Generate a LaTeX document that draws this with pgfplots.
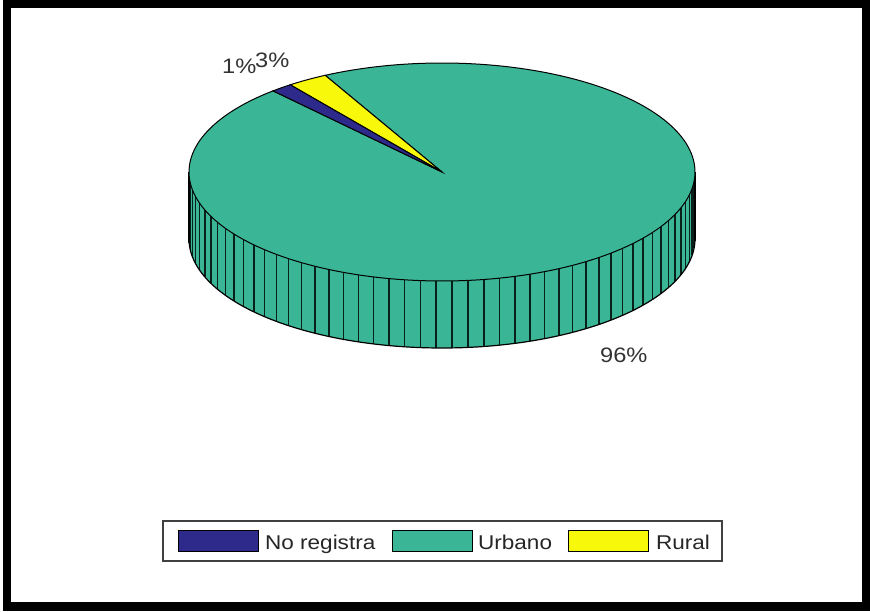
\documentclass[border=0pt]{standalone}
\usepackage{pgfplots}
\pgfplotsset{compat=1.18}
\usepackage{pgfplotstable}
\usepackage{fontspec}
\setmainfont{Liberation Sans}[FakeStretch=1.13]

\definecolor{cblue}{HTML}{2E2A8C}
\definecolor{cteal}{HTML}{3AB596}
\definecolor{cyellow}{HTML}{F8F80A}

% share of each category (percent)
\pgfplotstableread{
idx value
0 1.4
1 96.0
2 2.6
}\pietable

\pgfplotstablegetelem{0}{value}\of\pietable \let\vA\pgfplotsretval
\pgfplotstablegetelem{1}{value}\of\pietable \let\vB\pgfplotsretval
\pgfplotstablegetelem{2}{value}\of\pietable \let\vC\pgfplotsretval

% geometry (picture units = pixels)
\def\cx{442}
\def\cy{172}
\def\ra{253}
\def\rb{109}
\def\dep{67}
\pgfmathsetmacro\aS{126.86}
\pgfmathsetmacro\aA{\aS+3.6*\vA}
\pgfmathsetmacro\aB{\aA+3.6*\vB}
\pgfmathsetmacro\aC{\aB+3.6*\vC}
\pgfmathsetmacro\stepB{3.6*\vB/96}

\begin{document}
\begin{tikzpicture}
\begin{axis}[
  width=870bp, height=611bp, scale only axis,
  xmin=0, xmax=870, ymin=0, ymax=611, y dir=reverse,
  hide axis, clip=false,
]
% frame
\fill[white] (axis cs:0,0) rectangle (axis cs:870,611);
\fill[black] (axis cs:3,0) rectangle (axis cs:870,611);
\fill[white] (axis cs:11,8) rectangle (axis cs:862,602);

% side of the pie
\addplot[fill=cteal, draw=none, domain=180:360, samples=100]
  ({\cx+\ra*cos(x)}, {\cy+\dep-\rb*sin(x)}) -- (axis cs:\cx+\ra,\cy) -- (axis cs:\cx-\ra,\cy) -- cycle;
\pgfplotsinvokeforeach{14,...,63}{
  \addplot[draw=cteal!18!black, line width=1.6bp, domain=0:1, samples=2]
    ({\cx+\ra*cos(\aA+\stepB*#1)}, {\cy-\rb*sin(\aA+\stepB*#1)+\dep*x});
}
\addplot[draw=black, line width=1.2bp, domain=180:360, samples=100]
  ({\cx+\ra*cos(x)}, {\cy+\dep-\rb*sin(x)});
\addplot[draw=black, line width=1.2bp] coordinates {(\cx-\ra,\cy) (\cx-\ra,\cy+\dep)};
\addplot[draw=black, line width=1.2bp] coordinates {(\cx+\ra,\cy) (\cx+\ra,\cy+\dep)};

% top wedges
\addplot[fill=cteal, draw=black, line width=1bp, domain=\aA:\aB, samples=200]
  ({\cx+\ra*cos(x)}, {\cy-\rb*sin(x)}) -- (axis cs:\cx,\cy) -- cycle;
\addplot[fill=cyellow, draw=black, line width=1bp, domain=\aB:\aC, samples=10]
  ({\cx+\ra*cos(x)}, {\cy-\rb*sin(x)}) -- (axis cs:\cx,\cy) -- cycle;
\addplot[fill=cblue, draw=black, line width=1bp, domain=\aS:\aA, samples=10]
  ({\cx+\ra*cos(x)}, {\cy-\rb*sin(x)}) -- (axis cs:\cx,\cy) -- cycle;

% percentage labels
\node[anchor=base west, inner sep=0pt, text=black!80, font=\fontsize{21}{25}\selectfont] at (axis cs:222,74) {1\%};
\node[anchor=base west, inner sep=0pt, text=black!80, font=\fontsize{21}{25}\selectfont] at (axis cs:255,68) {3\%};
\node[anchor=base west, inner sep=0pt, text=black!80, font=\fontsize{21}{25}\selectfont] at (axis cs:600,362) {96\%};

% legend
\draw[black!75, line width=1.2bp] (axis cs:163,521) rectangle (axis cs:722,561);
\draw[fill=cblue, line width=1bp] (axis cs:178,530) rectangle (axis cs:258,551);
\draw[fill=cteal, line width=1bp] (axis cs:392,530) rectangle (axis cs:472,551);
\draw[fill=cyellow, line width=1bp] (axis cs:568,530) rectangle (axis cs:648,551);
\node[anchor=base west, inner sep=0pt, text=black!85, font=\fontsize{20}{24}\selectfont] at (axis cs:265,549) {No registra};
\node[anchor=base west, inner sep=0pt, text=black!85, font=\fontsize{20}{24}\selectfont] at (axis cs:478,549) {Urbano};
\node[anchor=base west, inner sep=0pt, text=black!85, font=\fontsize{20}{24}\selectfont] at (axis cs:656,549) {Rural};
\end{axis}
\end{tikzpicture}
\end{document}
